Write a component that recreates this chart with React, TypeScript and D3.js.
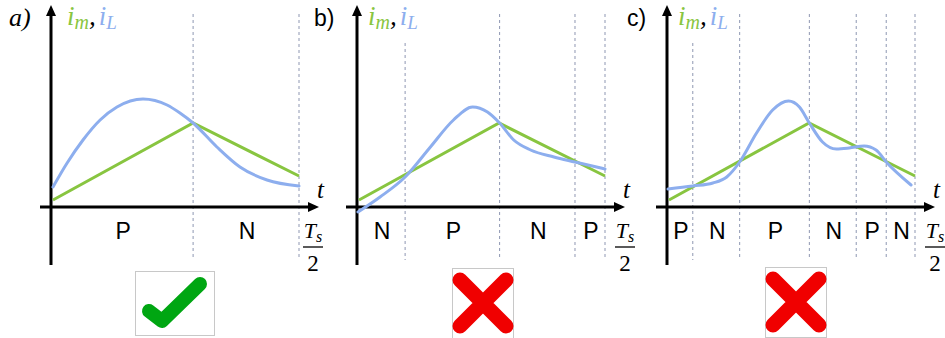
import React from "react";
import * as d3 from "d3";

// Modulated (reference) current i_m: same triangle in every panel
const greenT = [0.008, 0.573, 1];
const greenI = [7, 84, 31];

// Inductor current i_L for the three switching patterns
const blueAT = [0.008, 0.065, 0.129, 0.198, 0.266, 0.371, 0.468, 0.52, 0.573, 0.669, 0.762, 0.871, 1.0];
const blueAI = [20, 44, 67, 87, 100, 108, 102, 94, 84, 60, 40, 27, 21];

const blueBT = [0.004, 0.093, 0.194, 0.296, 0.389, 0.466, 0.526, 0.575, 0.632, 0.7, 0.794, 0.879, 1.0];
const blueBI = [-5, 10, 30, 60, 87, 100, 95, 84, 67, 57, 50, 45, 38];

const blueCT = [0.004, 0.104, 0.185, 0.241, 0.293, 0.361, 0.426, 0.49, 0.534, 0.574, 0.627, 0.683, 0.735, 0.795, 0.843, 0.884, 0.984];
const blueCI = [18, 21, 24, 30, 45, 74, 97, 106, 100, 84, 65, 58, 59, 61, 57, 45, 22];

// Switching instants (fraction of Ts/2) and the state in each interval
const switchA = [0.573, 1];
const switchB = [0.194, 0.575, 0.879, 1];
const switchC = [0.104, 0.293, 0.574, 0.763, 0.884, 1];

const modesA = ["P", "N"];
const modesB = ["N", "P", "N", "P"];
const modesC = ["P", "N", "P", "N", "P", "N"];

const panelNames = ["a)", "b)", "c)"];
const verdicts = ["ok", "bad", "bad"];

const GREEN = "#88C540";
const BLUE = "#8DAEEE";
const DASH = "#8E97B2";
const SERIF = "'Liberation Serif', 'DejaVu Serif', serif";
const SANS = "'Liberation Sans', Arial, sans-serif";

type PanelCfg = {
  x0: number;
  blueT: number[];
  blueI: number[];
  switches: number[];
  modes: string[];
  name: string;
  nameX: number;
  nameItalic: boolean;
  legendDx: number;
  tsDx: number;
  firstDashTop: number;
  verdict: string;
  iconX: number;
  iconY: number;
};

const panels: PanelCfg[] = [
  { x0: 51, blueT: blueAT, blueI: blueAI, switches: switchA, modes: modesA, name: panelNames[0], nameX: 9, nameItalic: true, legendDx: 16, tsDx: 262, firstDashTop: 14, verdict: verdicts[0], iconX: 135, iconY: 271 },
  { x0: 357, blueT: blueBT, blueI: blueBI, switches: switchB, modes: modesB, name: panelNames[1], nameX: 314, nameItalic: false, legendDx: 11, tsDx: 268, firstDashTop: 43, verdict: verdicts[1], iconX: 452, iconY: 268 },
  { x0: 667, blueT: blueCT, blueI: blueCI, switches: switchC, modes: modesC, name: panelNames[2], nameX: 627, nameItalic: false, legendDx: 11, tsDx: 268, firstDashTop: 43, verdict: verdicts[2], iconX: 765, iconY: 267 },
];

const AXIS_Y = 207;
const y = d3.scaleLinear().domain([0, 200]).range([AXIS_Y, 7]);

function Panel({ p }: { p: PanelCfg }) {
  const x = d3.scaleLinear().domain([0, 1]).range([p.x0, p.x0 + 248]);
  const line = d3
    .line<[number, number]>()
    .x((d) => x(d[0]))
    .y((d) => y(d[1]));
  const smooth = d3
    .line<[number, number]>()
    .x((d) => x(d[0]))
    .y((d) => y(d[1]))
    .curve(d3.curveMonotoneX);

  const greenPts = greenT.map((t, i) => [t, greenI[i]] as [number, number]);
  const bluePts = p.blueT.map((t, i) => [t, p.blueI[i]] as [number, number]);
  const bounds = [0, ...p.switches];

  const xEnd = p.x0 + 268;
  const yTop = 5;

  return (
    <g>
      {/* switching instants */}
      {p.switches.map((s, i) => (
        <line
          key={"d" + i}
          x1={x(s)}
          x2={x(s)}
          y1={i === 0 && p.switches.length > 2 ? p.firstDashTop : 14}
          y2={260}
          stroke={DASH}
          strokeWidth={1}
          strokeDasharray="3,3"
        />
      ))}

      {/* axes */}
      <line x1={p.x0} x2={p.x0} y1={265} y2={yTop + 8} stroke="#000" strokeWidth={3} />
      <path d={`M${p.x0},${yTop} L${p.x0 - 5},${yTop + 11} L${p.x0 + 5},${yTop + 11} Z`} fill="#000" />
      <line x1={p.x0 - 11} x2={xEnd - 8} y1={AXIS_Y} y2={AXIS_Y} stroke="#000" strokeWidth={3} />
      <path d={`M${xEnd},${AXIS_Y} L${xEnd - 11},${AXIS_Y - 5} L${xEnd - 11},${AXIS_Y + 5} Z`} fill="#000" />

      {/* currents */}
      <path d={line(greenPts) || ""} fill="none" stroke={GREEN} strokeWidth={3} />
      <path d={smooth(bluePts) || ""} fill="none" stroke={BLUE} strokeWidth={3} strokeLinecap="round" />

      {/* state labels */}
      {p.modes.map((m, i) => (
        <text
          key={"m" + i}
          x={(x(bounds[i]) + x(bounds[i + 1])) / 2 + 1}
          y={239}
          textAnchor="middle"
          fontFamily={SANS}
          fontSize={23}
          fill="#000"
        >
          {m}
        </text>
      ))}

      {/* axis titles */}
      <text x={p.x0 + 266} y={198} fontFamily={SERIF} fontStyle="italic" fontSize={25} fill="#000">
        t
      </text>
      <text x={p.x0 + p.tsDx} y={238} textAnchor="middle" fontFamily={SERIF} fontStyle="italic" fontSize={22} fill="#000">
        T<tspan fontSize={16} dy={4}>s</tspan>
      </text>
      <line x1={p.x0 + p.tsDx - 10} x2={p.x0 + p.tsDx + 10} y1={247} y2={247} stroke="#000" strokeWidth={1.3} />
      <text x={p.x0 + p.tsDx} y={271} textAnchor="middle" fontFamily={SERIF} fontSize={23} fill="#000">
        2
      </text>

      <text x={p.x0 + p.legendDx} y={25} fontFamily={SERIF} fontStyle="italic" fontSize={27}>
        <tspan fill={GREEN}>i</tspan>
        <tspan fill={GREEN} fontSize={20} dy={4}>m</tspan>
        <tspan fill="#000" dy={-4}>,</tspan>
        <tspan fill={BLUE} dx={3}>i</tspan>
        <tspan fill={BLUE} fontSize={19} dy={4}>L</tspan>
      </text>

      <text
        x={p.nameX}
        y={26}
        fontFamily={p.nameItalic ? SERIF : SANS}
        fontStyle={p.nameItalic ? "italic" : "normal"}
        fontSize={p.nameItalic ? 26 : 23}
        fill="#000"
      >
        {p.name}
      </text>

      {/* verdict icon */}
      {p.verdict === "ok" ? (
        <g>
          <rect x={p.iconX + 0.5} y={p.iconY + 0.5} width={79} height={64} fill="#fff" stroke="#C8C8C8" strokeWidth={1} />
          <path
            d={`M${p.iconX + 14},${p.iconY + 40} L${p.iconX + 27},${p.iconY + 50} L${p.iconX + 65},${p.iconY + 13}`}
            fill="none"
            stroke="#00A612"
            strokeWidth={14}
            strokeLinecap="round"
            strokeLinejoin="round"
          />
        </g>
      ) : (
        <g>
          <rect x={p.iconX + 0.5} y={p.iconY + 0.5} width={61} height={70} fill="#fff" stroke="#C8C8C8" strokeWidth={1} />
          <path
            d={`M${p.iconX + 8},${p.iconY + 12} L${p.iconX + 54},${p.iconY + 58} M${p.iconX + 54},${p.iconY + 12} L${p.iconX + 8},${p.iconY + 58}`}
            fill="none"
            stroke="#F00000"
            strokeWidth={15}
            strokeLinecap="round"
          />
        </g>
      )}
    </g>
  );
}

export default function App() {
  return (
    <svg
      width={945}
      height={338}
      viewBox="0 0 945 338"
      style={{ position: "absolute", left: 0, top: 0, background: "#fff" }}
    >
      <rect width={945} height={338} fill="#fff" />
      {panels.map((p, i) => (
        <Panel key={i} p={p} />
      ))}
    </svg>
  );
}
